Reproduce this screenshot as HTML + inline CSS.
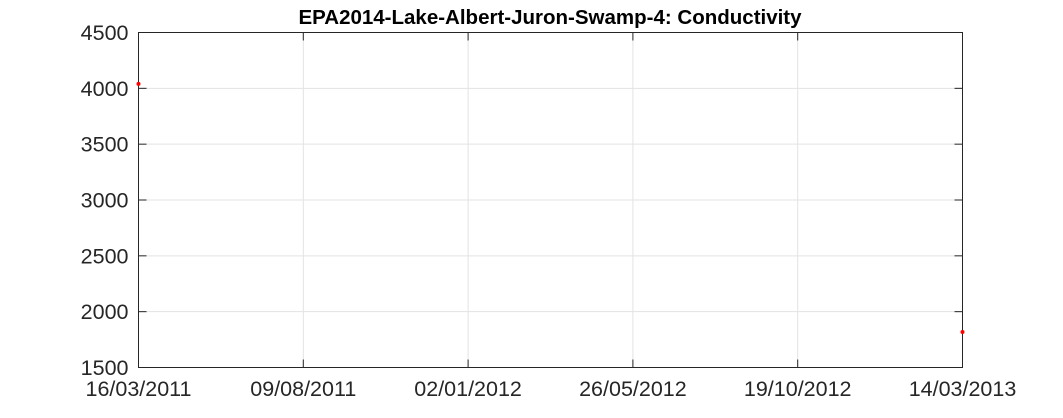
<!DOCTYPE html>
<html><head><meta charset="utf-8"><style>
body{margin:0;background:#fff;}
svg text{font-family:"Liberation Sans",Arial,sans-serif;}
</style></head><body>
<svg width="1063" height="413" id="c">
<rect width="1063" height="413" fill="#fff"/>
<text x="550" y="24" text-anchor="middle" font-size="20.5" font-weight="bold" fill="#000">EPA2014-Lake-Albert-Juron-Swamp-4: Conductivity</text>
<g id="grid"></g><g id="axes"></g><g id="marks"></g>
</svg>
<script>
const xTickLabels=["16/03/2011","09/08/2011","02/01/2012","26/05/2012","19/10/2012","14/03/2013"];
const yTicks=[1500,2000,2500,3000,3500,4000,4500];
const dates=["2011-03-16","2013-03-14"];
const values=[4040,1818];
const L=138.5,R=962.5,T=32.5,B=367.5;
const t0=Date.UTC(2011,2,16),t1=Date.UTC(2013,2,14);
const xs=d=>L+(Date.parse(d)-t0)/(t1-t0)*(R-L);
const ys=v=>B-(v-1500)/3000*(B-T);
const NS="http://www.w3.org/2000/svg";
function mk(tag,attrs,parent,text){const e=document.createElementNS(NS,tag);for(const k in attrs)e.setAttribute(k,attrs[k]);if(text!==undefined)e.textContent=text;document.getElementById(parent).appendChild(e);return e;}
xTickLabels.forEach((lab,i)=>{
  const x=L+i*(R-L)/(xTickLabels.length-1);
  if(i>0&&i<xTickLabels.length-1){
    const g=mk('line',{x1:x,x2:x,y1:T,y2:B,stroke:'#e3e3e3','stroke-width':1},'grid');
    
    
  }
  const tk=mk('line',{x1:x,x2:x,y1:B,y2:B-8,stroke:'#262626'},'axes');
  
  
  const tk2=mk('line',{x1:x,x2:x,y1:T,y2:T+8,stroke:'#262626'},'axes');
  
  
  const t=mk('text',{x:x,y:396,'text-anchor':'middle','font-size':21.5,fill:'#262626'},'axes',lab);
  
  
});
yTicks.forEach(v=>{
  const y=ys(v);
  if(v>1500&&v<4500){
    const g=mk('line',{x1:L,x2:R,y1:y,y2:y,stroke:'#e3e3e3'},'grid');
    
    
  }
  const tk=mk('line',{x1:L,x2:L+8,y1:y,y2:y,stroke:'#262626'},'axes');
  
  
  const tk2=mk('line',{x1:R,x2:R-8,y1:y,y2:y,stroke:'#262626'},'axes');
  
  
  const t=mk('text',{x:L-10,y:y+7.5,'text-anchor':'end','font-size':21.5,fill:'#262626'},'axes',v);
  
  
});
const box=mk('rect',{x:L,y:T,width:R-L,height:B-T,fill:'none',stroke:'#262626'},'axes');


dates.forEach((d,i)=>{
  const p=mk('circle',{cx:xs(d),cy:ys(values[i]),r:2,fill:'#ff0000'},'marks');
  
  
});
</script>
</body></html>
